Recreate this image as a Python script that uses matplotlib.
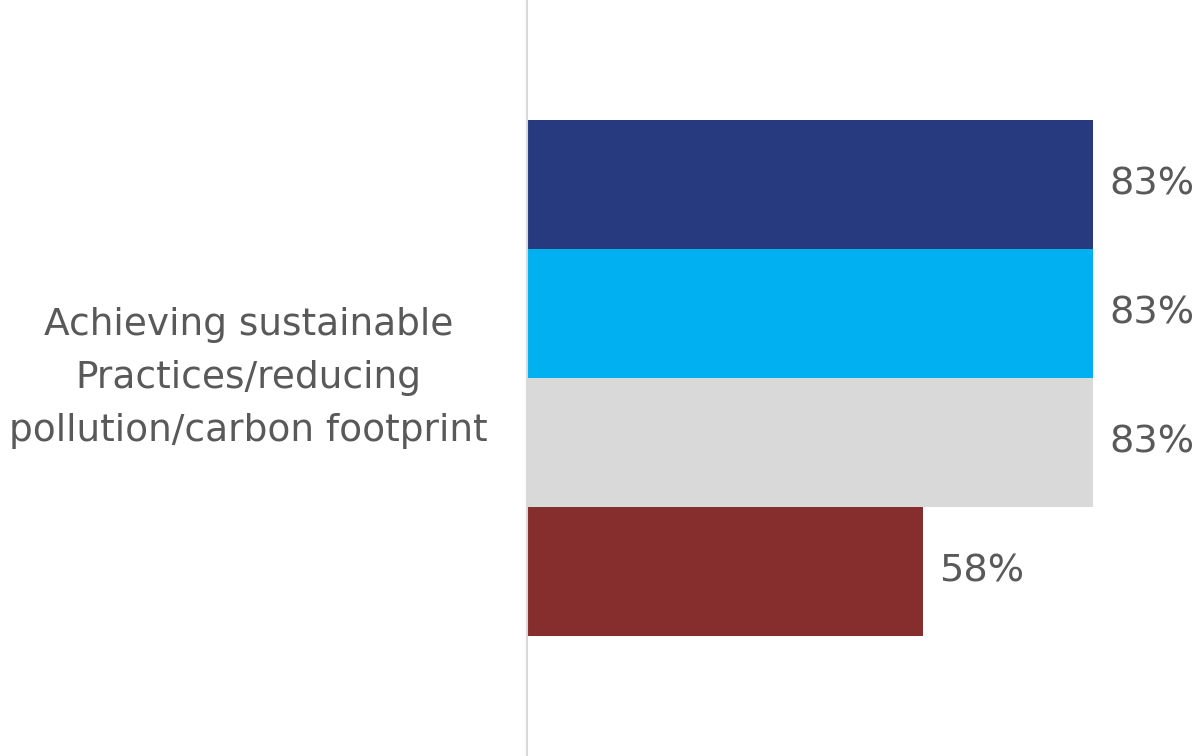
import matplotlib
matplotlib.use('Agg')
import matplotlib.pyplot as plt
import numpy as np

# data
category = "Achieving sustainable\nPractices/reducing\npollution/carbon footprint"
values = [83, 83, 83, 58]
colors = ['#283A7F', '#00B0F0', '#D9D9D9', '#862D2D']
text_color = '#595959'

plt.rcParams['font.family'] = ['DejaVu Sans']

fig = plt.figure(figsize=(12, 7.56), dpi=100)
ax = fig.add_axes([527 / 1200, 0, 673 / 1200, 1])

pos = np.arange(len(values))
ax.barh(pos, values, height=1.0, color=colors)

ax.set_xlim(0, 673 / 6.82)
ax.set_ylim(len(values) - 1 + 1.43, -1.43)

for p, v in zip(pos, values):
    ax.text(v + 2.4, p, f"{v}%", va='center', ha='left',
            fontsize=27.5, color=text_color)

# category label, centred between the middle bars
ax.text(-39 / 6.82, (len(values) - 1) / 2, category, ha='right', va='center',
        multialignment='center', fontsize=27, color=text_color,
        linespacing=1.6)

for s in ['top', 'right', 'bottom']:
    ax.spines[s].set_visible(False)
ax.spines['left'].set_color('#D9D9D9')
ax.spines['left'].set_linewidth(1.5)
ax.set_xticks([])
ax.set_yticks([])

fig.savefig("out.png", dpi=100)
